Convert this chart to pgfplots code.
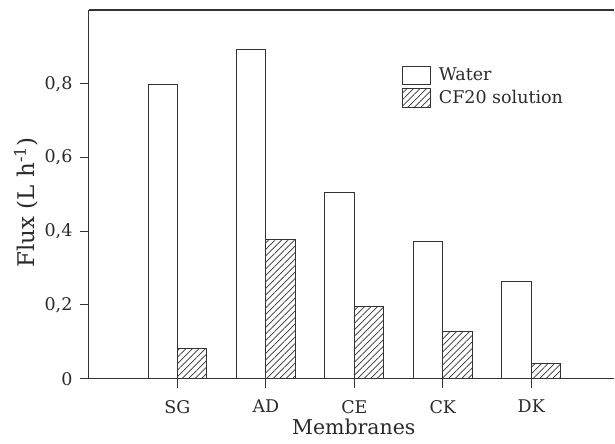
\documentclass[border=0pt]{standalone}
\usepackage{pgfplots}
\pgfplotsset{compat=1.18}
\usepackage{fontspec}
\setmainfont{DejaVu Serif}
\usetikzlibrary{patterns.meta}
\definecolor{ax}{HTML}{333333}
\definecolor{tx}{HTML}{2A2A2A}

\begin{document}
\begin{tikzpicture}
\begin{axis}[
  scale only axis, width=526bp, height=369bp,
  xmin=-1, xmax=4.94, ymin=0, ymax=1,
  axis x line=box, axis y line=left,
  axis line style={-, draw=ax, line width=1.1bp},
  xtick pos=lower, ytick pos=left,
  tick align=outside, major tick length=9bp,
  tick style={draw=ax, line width=1bp},
  xtick={0,1,2,3,4}, xticklabels={SG,AD,CE,CK,DK},
  ytick={0,0.2,0.4,0.6,0.8},
  /pgf/number format/assume math mode=true,
  ticklabel style={font=\fontsize{17.5bp}{20bp}\selectfont, text=tx},
  yticklabel style={xshift=-4bp, /pgf/number format/.cd, use comma, fixed, precision=1},
  xticklabel style={yshift=-9bp},
  xlabel={Membranes}, ylabel={Flux (L h\textsuperscript{-1})},
  xlabel style={font=\fontsize{20.5bp}{24bp}\selectfont, text=tx, at={(axis description cs:0.504,-0.1518)}, anchor=base},
  ylabel style={font=\fontsize{23bp}{26bp}\selectfont, text=tx, at={(axis description cs:-0.1027,0.478)}, anchor=base},
  legend style={draw=none, fill=none, at={(axis description cs:0.59,0.855)}, anchor=north west,
    font=\fontsize{17.5bp}{20bp}\selectfont, text=tx, row sep=3bp,
    /tikz/every odd column/.append style={column sep=6bp}},
  legend cell align=left,
]
\addplot[ybar, bar width=29.5bp, bar shift=-14.75bp, draw=ax, fill=white, line width=0.8bp,
  legend image code/.code={\draw[draw=ax, fill=white, line width=0.8bp] (0bp,-9.3bp) rectangle (28bp,9.3bp);}]
  coordinates {(0,0.797) (1,0.894) (2,0.505) (3,0.372) (4,0.264)};
\addlegendentry{Water}
\addplot[ybar, bar width=29.5bp, bar shift=14.75bp, draw=ax, line width=0.8bp,
  pattern={Lines[angle=45,distance=4.6bp,line width=0.8bp]}, pattern color=ax,
  legend image code/.code={\draw[draw=ax, line width=0.8bp, pattern={Lines[angle=45,distance=4.6bp,line width=0.8bp]}, pattern color=ax] (0bp,-9.3bp) rectangle (28bp,9.3bp);}]
  coordinates {(0,0.083) (1,0.377) (2,0.196) (3,0.128) (4,0.041)};
\addlegendentry{CF20 solution}
\end{axis}
\path ([xshift=-89bp,yshift=-65bp]current axis.south west) rectangle ([yshift=10bp]current axis.north east);
\end{tikzpicture}
\end{document}
